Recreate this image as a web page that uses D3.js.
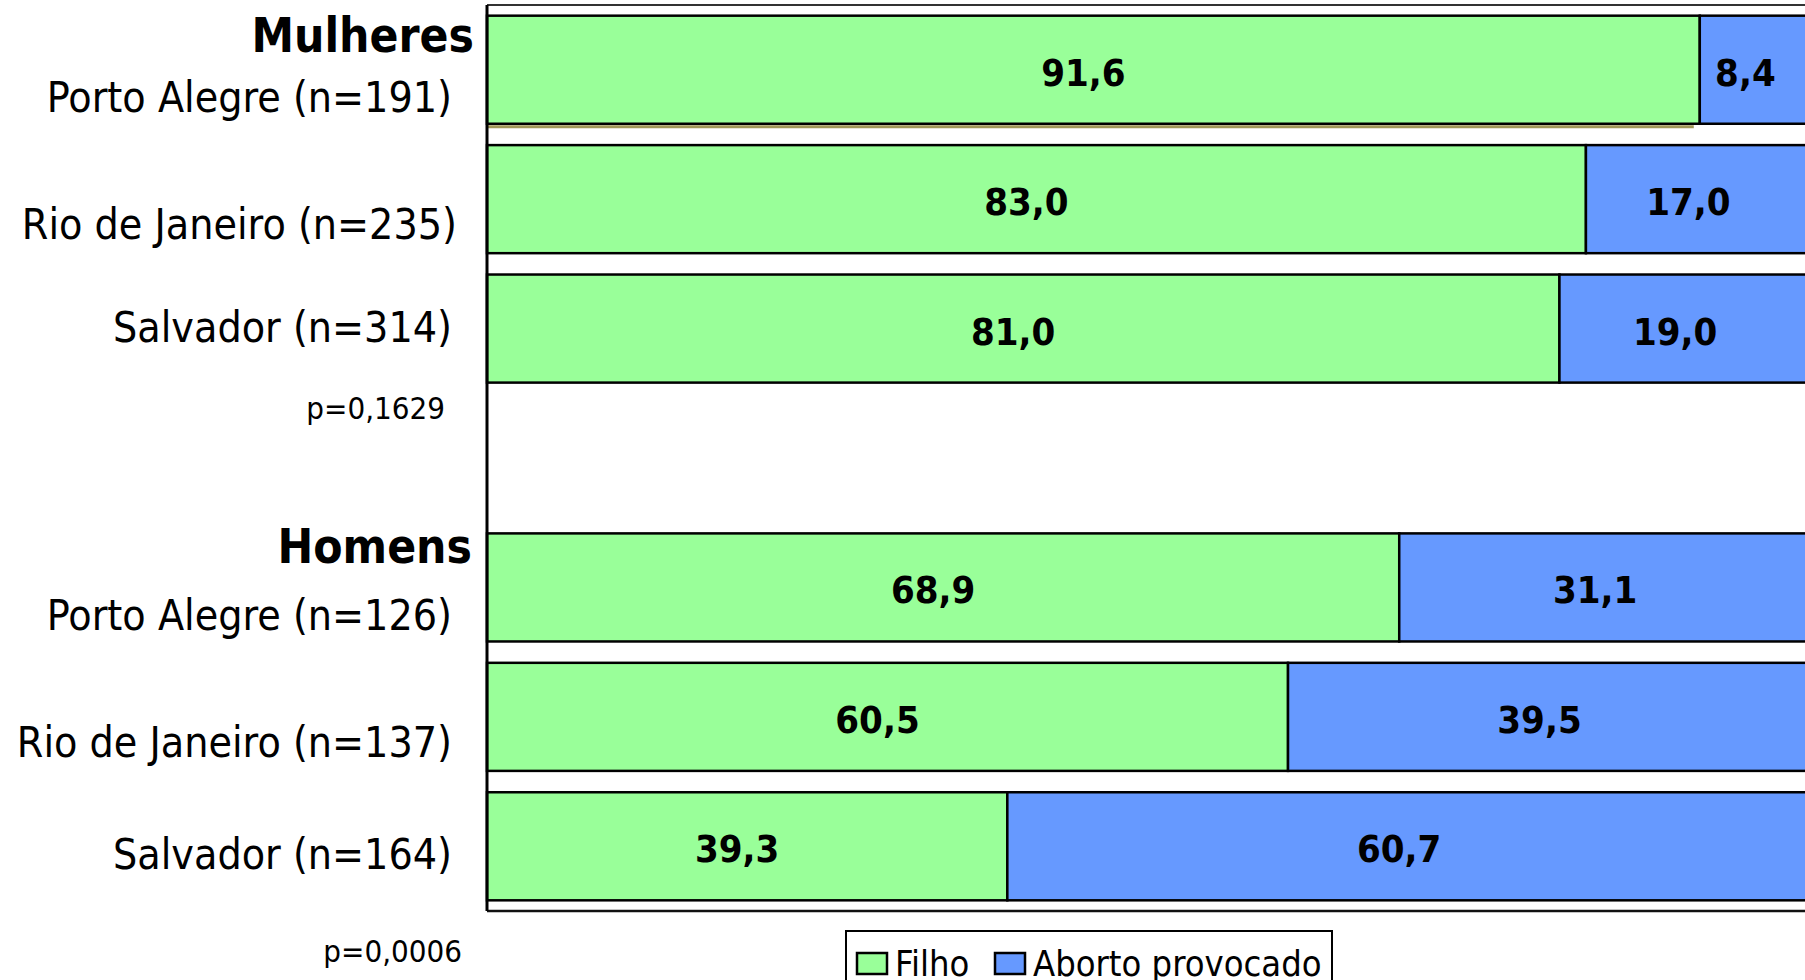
<!DOCTYPE html>
<html>
<head>
<meta charset="utf-8">
<script src="https://cdn.jsdelivr.net/npm/d3@7"></script>
<style>
  html, body { margin: 0; padding: 0; background: #fff; overflow: hidden; }
  svg { display: block; }
  text { font-family: "DejaVu Sans Condensed", "DejaVu Sans", sans-serif; }
</style>
</head>
<body>
<svg id="chart" width="1805" height="980"></svg>
<script>
// ---- data ----
const groups = ["Mulheres", "Homens"];
const categories = ["Porto Alegre (n=191)", "Rio de Janeiro (n=235)", "Salvador (n=314)",
                    "Porto Alegre (n=126)", "Rio de Janeiro (n=137)", "Salvador (n=164)"];
const groupOf = [0, 0, 0, 1, 1, 1];
const series = ["Filho", "Aborto provocado"];
const filho  = [91.6, 83.0, 81.0, 68.9, 60.5, 39.3];
const aborto = [8.4, 17.0, 19.0, 31.1, 39.5, 60.7];
const pValues = ["p=0,1629", "p=0,0006"];
const colors = ["#99FF99", "#6699FF"];

// ---- layout (not data) ----
const labelDy = [42, 40, 13, 43, 40, 23];
const labelRight = [452, 457, 452, 452, 452, 452];
const headerDy = [36, 30];
const headerRight = [474, 472];
const pDy = [36, 62];
const pRight = [445, 462];

const svg = d3.select("#chart");
const plotL = 487, plotR = 1811, plotT = 5, plotB = 911;

const keys = categories.map((c, i) => groups[groupOf[i]] + "|" + c);
const slots = keys.slice(0, 3).concat(["gap"], keys.slice(3));

const x = d3.scaleLinear().domain([0, 100]).range([plotL, plotR]);
const y = d3.scaleBand().domain(slots).range([plotT, plotB]).paddingInner(0.165).paddingOuter(0.0825);

const rows = keys.map((k, i) => ({ key: k, Filho: filho[i], "Aborto provocado": aborto[i] }));
const stacked = d3.stack().keys(series)(rows);

// frame
svg.append("line").attr("x1", plotL).attr("x2", 1805).attr("y1", plotT).attr("y2", plotT)
  .attr("stroke", "#333").attr("stroke-width", 2);
svg.append("line").attr("x1", plotL).attr("x2", 1805).attr("y1", plotB).attr("y2", plotB)
  .attr("stroke", "#111").attr("stroke-width", 2.5);

// bars
stacked.forEach((s, si) => {
  svg.append("g").selectAll("rect").data(s).join("rect")
    .attr("x", d => x(d[0]))
    .attr("y", d => y(d.data.key))
    .attr("width", d => x(d[1]) - x(d[0]))
    .attr("height", y.bandwidth())
    .attr("fill", colors[si])
    .attr("stroke", "#000")
    .attr("stroke-width", 2.5);
});

// highlight artifact under first bar
svg.append("line")
  .attr("x1", x(0)).attr("x2", x(filho[0]) - 6)
  .attr("y1", y(keys[0]) + y.bandwidth() + 3).attr("y2", y(keys[0]) + y.bandwidth() + 3)
  .attr("stroke", "#a09858").attr("stroke-width", 3);

// y axis line
svg.append("line").attr("x1", plotL).attr("x2", plotL).attr("y1", plotT).attr("y2", plotB)
  .attr("stroke", "#000").attr("stroke-width", 3);

// value labels
stacked.forEach((s, si) => {
  svg.append("g").selectAll("text").data(s).join("text")
    .attr("x", d => x((d[0] + d[1]) / 2) - 10)
    .attr("y", d => y(d.data.key) + y.bandwidth() / 2 + 16)
    .attr("text-anchor", "middle")
    .attr("font-weight", "bold")
    .attr("font-size", 38)
    .attr("fill", "#000")
    .text(d => (d[1] - d[0]).toFixed(1).replace(".", ","));
});

// category labels
svg.append("g").selectAll("text").data(keys).join("text")
  .attr("x", (d, i) => labelRight[i])
  .attr("y", (d, i) => y(d) + y.bandwidth() / 2 + labelDy[i])
  .attr("text-anchor", "end")
  .attr("font-size", 42.5)
  .attr("fill", "#000")
  .text((d, i) => categories[i]);

// group headers
svg.append("g").selectAll("text").data(groups).join("text")
  .attr("x", (d, i) => headerRight[i])
  .attr("y", (d, i) => y(keys[groupOf.indexOf(i)]) + headerDy[i])
  .attr("text-anchor", "end")
  .attr("font-size", 47.5)
  .attr("font-weight", "bold")
  .attr("fill", "#000")
  .text(d => d);

// p values
svg.append("g").selectAll("text").data(pValues).join("text")
  .attr("x", (d, i) => pRight[i])
  .attr("y", (d, i) => y(keys[groupOf.lastIndexOf(i)]) + y.bandwidth() + pDy[i])
  .attr("text-anchor", "end")
  .attr("font-size", 31)
  .attr("fill", "#000")
  .text(d => d);

// legend
const lg = svg.append("g");
lg.append("rect").attr("x", 846).attr("y", 931).attr("width", 486).attr("height", 80)
  .attr("fill", "#fff").attr("stroke", "#000").attr("stroke-width", 2);
const legendX = [857, 995];
series.forEach((s, i) => {
  lg.append("rect").attr("x", legendX[i]).attr("y", 953).attr("width", 30).attr("height", 21)
    .attr("fill", colors[i]).attr("stroke", "#000").attr("stroke-width", 2.5);
  lg.append("text").attr("x", legendX[i] + 38).attr("y", 976)
    .attr("font-size", 36).attr("fill", "#000").text(s);
});
</script>
</body>
</html>
